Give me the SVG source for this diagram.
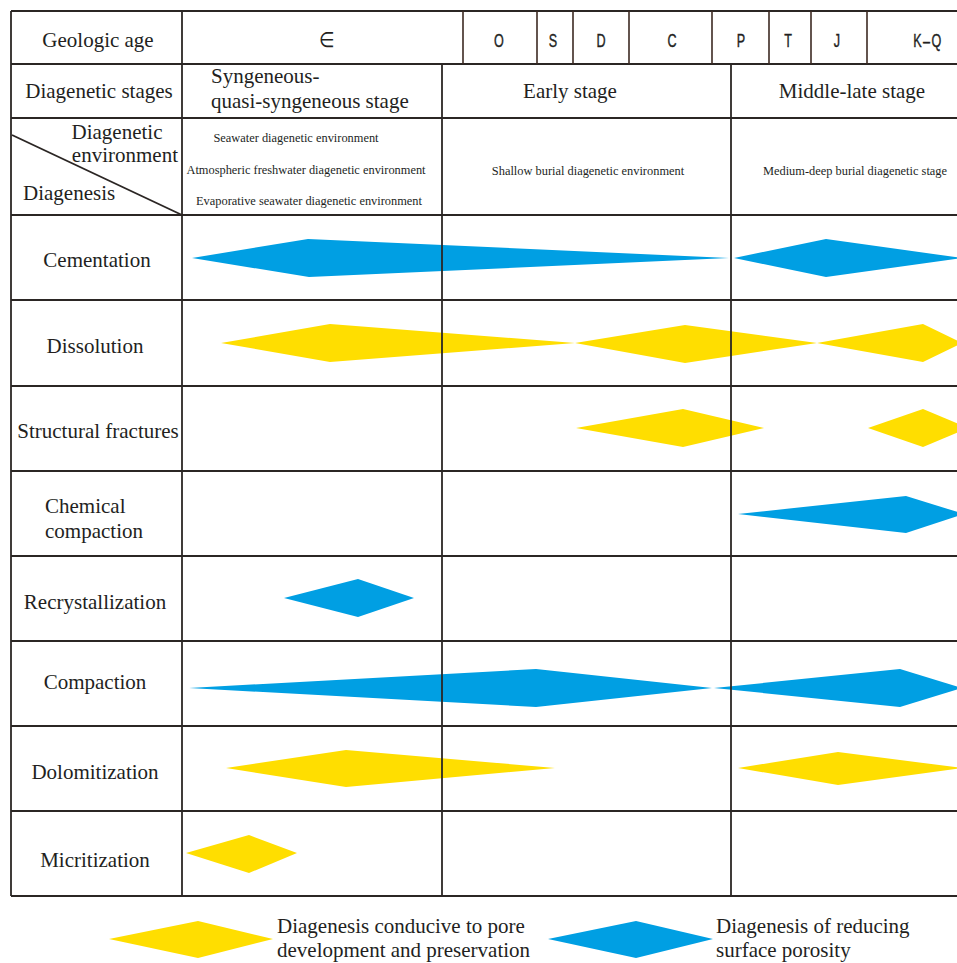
<svg xmlns="http://www.w3.org/2000/svg" width="957" height="963" viewBox="0 0 957 963">
<style>
  .grid line{stroke:#2b2624;stroke-width:1.8;fill:none}
  .age line{stroke:#3d2a22;stroke-width:1.6}
  .t{font-family:"Liberation Serif","Times New Roman",serif;font-size:21px;fill:#231f1e}
  .s{font-family:"Liberation Serif","Times New Roman",serif;font-size:12.4px;fill:#231f1e}
  .a{font-family:"Liberation Sans",Arial,sans-serif;font-size:18px;fill:#231f1e;text-anchor:middle;stroke:#231f1e;stroke-width:0.4}
  .m{text-anchor:middle}
  .blue{fill:#009fe3}
  .yel{fill:#ffde00}
</style>
<rect x="0" y="0" width="957" height="963" fill="#ffffff"/>

<g id="diamonds">
  <polygon class="blue" points="192,258 308,239 729,258 309,277"/>
  <polygon class="blue" points="734,258 826,239 962,258 826,277"/>
  <polygon class="yel" points="221,343 330,324 575,343 330,362"/>
  <polygon class="yel" points="575,343 685,325 817,343 685,363"/>
  <polygon class="yel" points="817,343 923,324 962,343 923,362"/>
  <polygon class="yel" points="576,428 683,409 764,428 683,447"/>
  <polygon class="yel" points="868,428 923,409 968,428 923,447"/>
  <polygon class="blue" points="738,514 906,496 964,514 906,533"/>
  <polygon class="blue" points="284,598 358,579 414,598 358,617"/>
  <polygon class="blue" points="189,688 536,669 712,688 536,707"/>
  <polygon class="blue" points="714,688 900,669 962,688 900,707"/>
  <polygon class="yel" points="226,768 346,750 555,768 346,787"/>
  <polygon class="yel" points="738,768 838,752 962,768 838,785"/>
  <polygon class="yel" points="186,853 249,835 297,853 249,873"/>
</g>

<g id="connectors" class="grid">
  <line x1="11" y1="11" x2="957" y2="11"/>
  <line x1="11" y1="64" x2="957" y2="64"/>
  <line x1="11" y1="118" x2="957" y2="118"/>
  <line x1="11" y1="215" x2="957" y2="215"/>
  <line x1="11" y1="300" x2="957" y2="300"/>
  <line x1="11" y1="386" x2="957" y2="386"/>
  <line x1="11" y1="471" x2="957" y2="471"/>
  <line x1="11" y1="556" x2="957" y2="556"/>
  <line x1="11" y1="641" x2="957" y2="641"/>
  <line x1="11" y1="726" x2="957" y2="726"/>
  <line x1="11" y1="811" x2="957" y2="811"/>
  <line x1="11" y1="896" x2="957" y2="896"/>
  <line x1="11" y1="11" x2="11" y2="896"/>
  <line x1="182" y1="11" x2="182" y2="896"/>
  <line x1="442" y1="64" x2="442" y2="896"/>
  <line x1="731" y1="64" x2="731" y2="896"/>
  <line x1="12" y1="135" x2="182" y2="215"/>
  <g class="age">
    <line x1="463" y1="11" x2="463" y2="64"/>
    <line x1="537" y1="11" x2="537" y2="64"/>
    <line x1="573" y1="11" x2="573" y2="64"/>
    <line x1="629" y1="11" x2="629" y2="64"/>
    <line x1="712" y1="11" x2="712" y2="64"/>
    <line x1="769" y1="11" x2="769" y2="64"/>
    <line x1="811" y1="11" x2="811" y2="64"/>
    <line x1="867" y1="11" x2="867" y2="64"/>
  </g>
</g>

<g id="header-age">
  <text class="t m" x="98" y="47">Geologic age</text>
  <text class="a" transform="translate(327,47) scale(0.85,1)" style="font-size:21px;stroke-width:0">∈</text>
  <text class="a" transform="translate(499,47) scale(0.7,1)">O</text>
  <text class="a" transform="translate(553,47) scale(0.7,1)">S</text>
  <text class="a" transform="translate(601,47) scale(0.7,1)">D</text>
  <text class="a" transform="translate(672,47) scale(0.7,1)">C</text>
  <text class="a" transform="translate(741,47) scale(0.7,1)">P</text>
  <text class="a" transform="translate(788,47) scale(0.7,1)">T</text>
  <text class="a" transform="translate(837,47) scale(0.7,1)">J</text>
  <text class="a" transform="translate(928,47) scale(0.7,1)" style="letter-spacing:2px">K–Q</text>
</g>

<g id="header-stages">
  <text class="t m" x="99" y="98">Diagenetic stages</text>
  <text class="t" x="211" y="83">Syngeneous-</text>
  <text class="t" x="211" y="108">quasi-syngeneous stage</text>
  <text class="t m" x="570" y="98">Early stage</text>
  <text class="t m" x="852" y="98">Middle-late stage</text>
</g>

<g id="header-environment">
  <text class="t m" x="117" y="139">Diagenetic</text>
  <text class="t" x="178" y="162" text-anchor="end">environment</text>
  <text class="t" x="23" y="200">Diagenesis</text>
  <text class="s m" x="296" y="142">Seawater diagenetic environment</text>
  <text class="s m" x="306" y="174">Atmospheric freshwater diagenetic environment</text>
  <text class="s m" x="309" y="205">Evaporative seawater diagenetic environment</text>
  <text class="s m" x="588" y="175">Shallow burial diagenetic environment</text>
  <text class="s m" x="855" y="175">Medium-deep burial diagenetic stage</text>
</g>

<g id="row-cementation"><text class="t m" x="97" y="267">Cementation</text></g>
<g id="row-dissolution"><text class="t m" x="95" y="353">Dissolution</text></g>
<g id="row-structural-fractures"><text class="t m" x="98" y="438">Structural fractures</text></g>
<g id="row-chemical-compaction">
  <text class="t" x="45" y="513">Chemical</text>
  <text class="t" x="45" y="538">compaction</text>
</g>
<g id="row-recrystallization"><text class="t m" x="95" y="609">Recrystallization</text></g>
<g id="row-compaction"><text class="t m" x="95" y="689">Compaction</text></g>
<g id="row-dolomitization"><text class="t m" x="95" y="779">Dolomitization</text></g>
<g id="row-micritization"><text class="t m" x="95" y="867">Micritization</text></g>

<g id="legend-conducive">
  <polygon class="yel" points="109,939 198,921 273,939 198,958"/>
  <text class="t" x="277" y="933">Diagenesis conducive to pore</text>
  <text class="t" x="277" y="957">development and preservation</text>
</g>
<g id="legend-reducing">
  <polygon class="blue" points="548,939 636,921 713,939 636,958"/>
  <text class="t" x="716" y="933">Diagenesis of reducing</text>
  <text class="t" x="716" y="957">surface porosity</text>
</g>
</svg>
